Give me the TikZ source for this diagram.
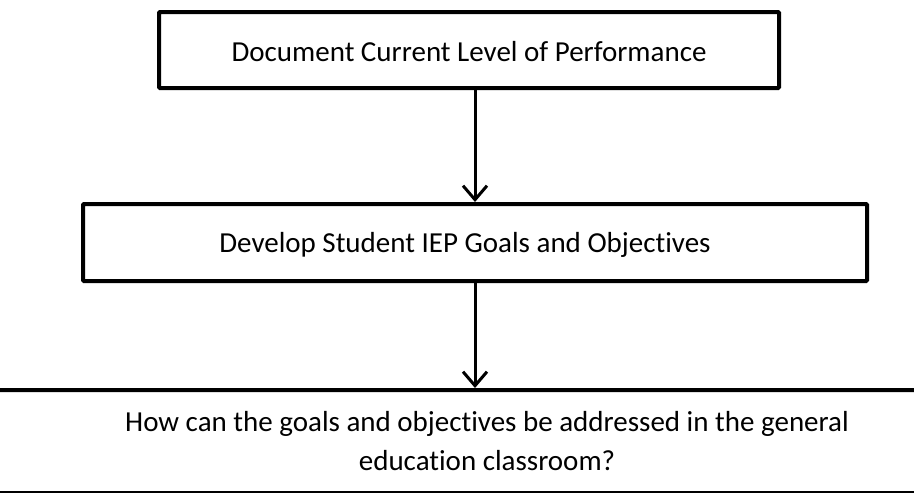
\documentclass[tikz,border=0pt]{standalone}
\usepackage{fontspec}
\setmainfont[Ligatures=NoCommon]{Carlito}
\usetikzlibrary{arrows.meta}
\begin{document}
\begin{tikzpicture}[x=1pt,y=-1pt,
  boxst/.style={draw=black,line width=4pt,rounded corners=1pt},
  lbl/.style={font=\fontsize{29}{39}\selectfont,align=center,inner sep=0pt},
  conn/.style={draw=black,line width=3pt,-{Straight Barb[length=14pt,width=24pt,line width=3pt]}}]
\useasboundingbox (0,0) rectangle (914,493);
\clip (0,0) rectangle (914,493);
\fill[white] (0,0) rectangle (914,493);
\draw[boxst] (159,12) rectangle (779,88);
\node[lbl] (t1) at (469,52) {Document Current Level of Performance};
\coordinate (b1) at (475,88);
\draw[boxst] (83,204) rectangle (867,281);
\node[lbl] (t2) at (465,245) {Develop Student IEP Goals and Objectives};
\coordinate (b2top) at (475,202);
\coordinate (b2) at (475,281);
\draw[boxst] (-20,390) rectangle (934,493);
\node[lbl] (t3) at (487,441) {How can the goals and objectives be addressed in the general\\education classroom?};
\coordinate (b3top) at (475,388);
\draw[conn] (b1) -- (b2top);
\draw[conn] (b2) -- (b3top);
\end{tikzpicture}
\end{document}
